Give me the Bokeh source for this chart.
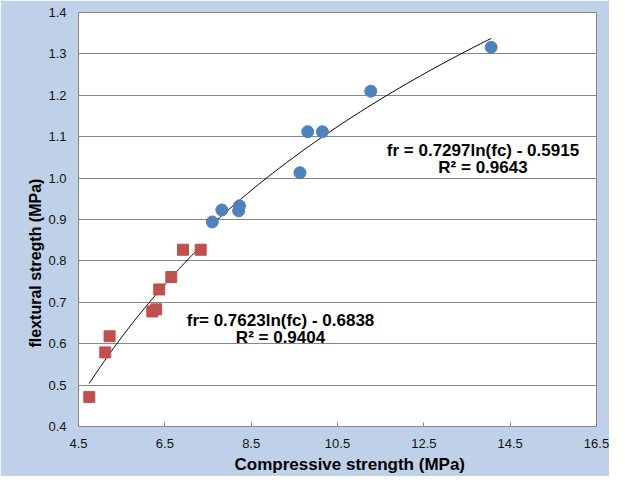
import numpy as np
from bokeh.plotting import figure
from bokeh.models import Range1d, FixedTicker, NumeralTickFormatter, Label, Title
from bokeh.embed import file_html
from bokeh.resources import INLINE

# ---- data ----
fc_blue = [7.60, 7.82, 8.21, 8.23, 9.63, 9.81, 10.15, 11.27, 14.06]
fr_blue = [0.894, 0.923, 0.921, 0.933, 1.013, 1.112, 1.112, 1.210, 1.316]

fc_red = [4.75, 5.12, 5.22, 6.21, 6.30, 6.37, 6.65, 6.92, 7.33]
fr_red = [0.471, 0.579, 0.618, 0.678, 0.683, 0.731, 0.761, 0.827, 0.827]

# trend-line coefficients printed on the chart: fr = a*ln(fc) + b
a_blue, b_blue = 0.7297, -0.5915
a_red, b_red = 0.7623, -0.6838
eq_blue = ["fr = 0.7297ln(fc) - 0.5915", "R² = 0.9643"]
eq_red = ["fr= 0.7623ln(fc) - 0.6838", "R² = 0.9404"]

x_ticks = [4.5, 6.5, 8.5, 10.5, 12.5, 14.5, 16.5]
y_ticks = [0.4, 0.5, 0.6, 0.7, 0.8, 0.9, 1.0, 1.1, 1.2, 1.3, 1.4]

x_title = "Compressive strength (MPa)"
y_title = "flextural stregth  (MPa)"

FONT = "Liberation Sans"
GRID = "#878787"
BG = "#bfd1e8"

p = figure(width=609, height=476, output_backend="svg", toolbar_location=None,
           x_range=Range1d(4.5, 16.5), y_range=Range1d(0.4, 1.4),
           min_border_left=78, min_border_right=13, min_border_top=12, min_border_bottom=50)
p.border_fill_color = BG
p.background_fill_color = "white"
p.outline_line_color = GRID
p.outline_line_width = 1

p.xgrid.visible = False
p.ygrid.ticker = FixedTicker(ticks=y_ticks)
p.ygrid.grid_line_color = GRID
p.ygrid.grid_line_width = 1

p.xaxis.ticker = FixedTicker(ticks=x_ticks)
p.yaxis.ticker = FixedTicker(ticks=y_ticks)
p.xaxis.formatter = NumeralTickFormatter(format="0.0")
p.yaxis.formatter = NumeralTickFormatter(format="0.0")
for ax in (p.xaxis, p.yaxis):
    ax.axis_line_color = GRID
    ax.major_label_text_font = FONT
    ax.major_label_text_font_size = "13px"
    ax.major_label_text_color = "#111111"
    ax.minor_tick_line_color = None
p.xaxis.major_tick_in = 4
p.xaxis.major_tick_out = 0
p.xaxis.major_tick_line_color = GRID
p.xaxis.major_label_standoff = 12
p.yaxis.major_tick_line_color = None
p.yaxis.major_tick_in = 0
p.yaxis.major_tick_out = 0
p.yaxis.major_label_standoff = 12

# trend lines drawn between each series' smallest and largest fc
xb = np.linspace(min(fc_blue), max(fc_blue), 80)
xr = np.linspace(min(fc_red), max(fc_red), 80)
p.line(xb, a_blue * np.log(xb) + b_blue, line_color="black", line_width=1)
p.line(xr, a_red * np.log(xr) + b_red, line_color="black", line_width=1)

p.scatter(x=fc_red, y=fr_red, marker="square", size=11,
          fill_color="#c0504d", line_color="#c0504d")
p.scatter(x=fc_blue, y=fr_blue, marker="circle", size=12,
          fill_color="#4f81bd", line_color="#4f81bd")

def lab(x, y, t):
    p.add_layout(Label(x=x, y=y, text=t, text_font=FONT, text_font_size="17px",
                       text_font_style="bold", text_color="black",
                       text_align="center", text_baseline="middle"))

lab(13.87, 1.067, eq_blue[0])
lab(13.87, 1.025, eq_blue[1])
lab(9.18, 0.657, eq_red[0])
lab(9.18, 0.6155, eq_red[1])

p.add_layout(Title(text=x_title, align="left", offset=156, standoff=4,
                   text_font=FONT, text_font_size="17px", text_font_style="bold",
                   text_color="black"), "below")
p.add_layout(Title(text=y_title, align="left", offset=79, standoff=4,
                   text_font=FONT, text_font_size="16px", text_font_style="bold",
                   text_color="black"), "left")

open("out.html", "w").write(file_html(p, INLINE))
